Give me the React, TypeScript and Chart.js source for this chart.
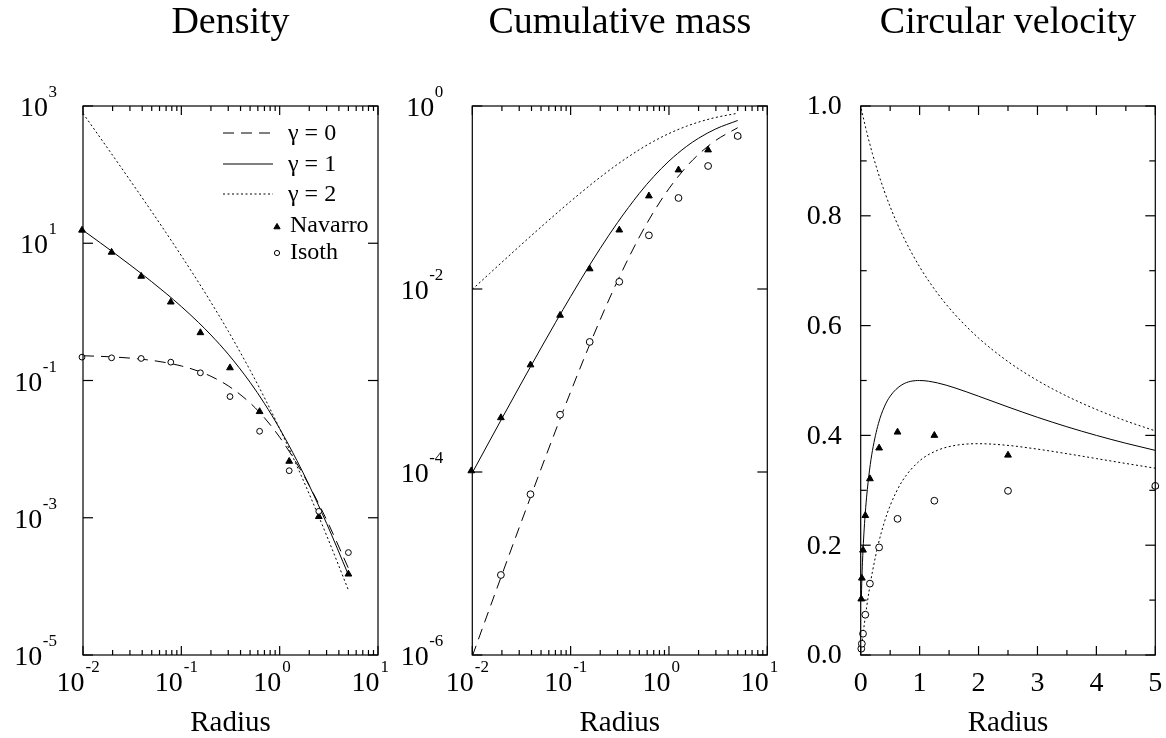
import React, { useEffect, useRef } from "react";
import { Chart, registerables } from "chart.js";

Chart.register(...registerables);

const FONT = '"Liberation Serif", "Times New Roman", Times, serif';

// ---------- data ----------
const pointRadii = [0.009765625, 0.01953125, 0.0390625, 0.078125, 0.15625, 0.3125, 0.625, 1.25, 2.5, 5];

const densityNavarro = [15.5, 7.39, 3.3, 1.39, 0.497, 0.153, 0.0352, 0.00664, 0.00104, 0.000151];
const densityIsoth = [0.219, 0.214, 0.2095, 0.185, 0.1295, 0.0583, 0.0182, 0.00485, 0.00124, 0.000311];
const massNavarro = [1.03e-4, 3.92e-4, 1.48e-3, 5.16e-3, 0.0166, 0.0441, 0.104, 0.2, 0.331, 0.47];
const massIsoth = [null, 7.49e-6, 5.71e-5, 4.23e-4, 2.64e-3, 0.012, 0.0386, 0.0988, 0.221, 0.47];
const velocityNavarro = [0.102, 0.14, 0.191, 0.254, 0.321, 0.377, 0.406, 0.4, 0.364, 0.308];
const velocityIsoth = [0.0115, 0.0206, 0.0388, 0.0734, 0.13, 0.196, 0.248, 0.281, 0.299, 0.308];

const curveRadiiLog = [0.01, 0.015, 0.02, 0.03, 0.05, 0.07, 0.1, 0.15, 0.2, 0.3, 0.5, 0.7, 1, 1.5, 2, 3, 5];
const densityGamma0 = [0.2294, 0.2249, 0.2205, 0.2121, 0.1964, 0.1821, 0.163, 0.1365, 0.1151, 0.0836, 0.04715, 0.02858, 0.01492, 0.006111, 0.002947, 0.0009325, 0.0001842];
const densityGamma1 = [15.45, 10.15, 7.499, 4.855, 2.75, 1.856, 1.196, 0.6976, 0.4605, 0.2415, 0.09431, 0.04628, 0.01989, 0.00679, 0.002947, 0.000829, 0.0001474];
const densityGamma2 = [780.1, 343.3, 191.2, 83.35, 28.87, 14.19, 6.577, 2.674, 1.382, 0.5232, 0.1415, 0.0562, 0.0199, 0.005659, 0.002211, 0.0005526, 0.0000884];
const massGamma0 = [9.706e-7, 3.228e-6, 7.539e-6, 2.471e-5, 1.08e-4, 2.8e-4, 7.513e-4, 2.219e-3, 4.63e-3, 0.01229, 0.03704, 0.06982, 0.125, 0.216, 0.2963, 0.4219, 0.5787];
const massGamma1 = [9.803e-5, 2.184e-4, 3.845e-4, 8.483e-4, 2.268e-3, 4.28e-3, 8.264e-3, 0.01701, 0.02778, 0.05325, 0.1111, 0.1696, 0.25, 0.36, 0.4444, 0.5625, 0.6944];
const massGamma2 = [0.009901, 0.01478, 0.01961, 0.02913, 0.04762, 0.06542, 0.09091, 0.1304, 0.1667, 0.2308, 0.3333, 0.4118, 0.5, 0.6, 0.6667, 0.75, 0.8333];

const curveRadiiLin = [0.01, 0.02, 0.03, 0.05, 0.07, 0.1, 0.15, 0.2, 0.3, 0.4, 0.5, 0.7, 1, 1.3, 1.6, 2, 2.5, 3, 3.5, 4, 4.5, 5];
const velocityGamma0 = [0.00985, 0.01942, 0.0287, 0.04647, 0.06324, 0.08668, 0.1216, 0.1522, 0.2024, 0.2415, 0.2722, 0.3158, 0.3536, 0.3727, 0.3817, 0.3849, 0.3818, 0.375, 0.3667, 0.3578, 0.3489, 0.3402];
const velocityGamma1 = [0.09901, 0.1387, 0.1682, 0.213, 0.2473, 0.2875, 0.3368, 0.3727, 0.4213, 0.4518, 0.4714, 0.4922, 0.5, 0.4957, 0.4865, 0.4714, 0.4518, 0.433, 0.4157, 0.4, 0.3857, 0.3727];
const velocityGamma2 = [0.995, 0.9901, 0.9853, 0.9759, 0.9667, 0.9535, 0.9325, 0.9129, 0.8771, 0.8452, 0.8165, 0.767, 0.7071, 0.6594, 0.6202, 0.5774, 0.5345, 0.5, 0.4714, 0.4472, 0.4264, 0.4082];

// ---------- ticks & labels ----------
const titles = ["Density", "Cumulative mass", "Circular velocity"];
const xAxisTitle = "Radius";
const legendLabels = ["\u03b3 = 0", "\u03b3 = 1", "\u03b3 = 2", "Navarro", "Isoth"];

const logXExponents = [-2, -1, 0, 1];
const logXMinor = [0.02, 0.03, 0.04, 0.05, 0.06, 0.07, 0.08, 0.09, 0.2, 0.3, 0.4, 0.5, 0.6, 0.7, 0.8, 0.9, 2, 3, 4, 5, 6, 7, 8, 9];
const densityYExponents = [-5, -3, -1, 1, 3];
const massYExponents = [-6, -4, -2, 0];
const velXTicks = [0, 1, 2, 3, 4, 5];
const velXLabels = ["0", "1", "2", "3", "4", "5"];
const velXMinor = [0.5, 1.5, 2.5, 3.5, 4.5];
const velYTicks = [0, 0.2, 0.4, 0.6, 0.8, 1.0];
const velYLabels = ["0.0", "0.2", "0.4", "0.6", "0.8", "1.0"];
const velYMinor = [0.1, 0.3, 0.5, 0.7, 0.9];

// ---------- styles ----------
const DASH_G0 = [11, 7];
const DASH_G1: number[] = [];
const DASH_G2 = [2, 2.5];

type Label = { value: number; base: string; exp?: string };

const powLabels = (exps: number[]): Label[] =>
  exps.map((e) => ({ value: Math.pow(10, e), base: "10", exp: String(e) }));
const textLabels = (vals: number[], texts: string[]): Label[] =>
  vals.map((v, i) => ({ value: v, base: texts[i] }));

const toXY = (xs: number[], ys: (number | null)[]) =>
  xs.map((x, i) => ({ x, y: ys[i] })).filter((p) => p.y !== null && p.y !== undefined);

function lineDs(label: string, xs: number[], ys: number[], dash: number[]) {
  return {
    label,
    data: toXY(xs, ys),
    showLine: true,
    borderColor: "#000",
    borderWidth: 1,
    borderDash: dash,
    pointRadius: 0,
    fill: false,
    cubicInterpolationMode: "monotone",
  };
}
function triDs(ys: (number | null)[]) {
  return {
    label: "Navarro",
    data: toXY(pointRadii, ys),
    showLine: false,
    pointStyle: "triangle",
    pointRadius: 3.9,
    pointBackgroundColor: "#000",
    pointBorderColor: "#000",
    pointBorderWidth: 1,
    clip: false,
  };
}
function circDs(ys: (number | null)[], r: number) {
  return {
    label: "Isoth",
    data: toXY(pointRadii, ys),
    showLine: false,
    pointStyle: "circle",
    pointRadius: r,
    pointBackgroundColor: "#fff",
    pointBorderColor: "#000",
    pointBorderWidth: 1,
    clip: false,
  };
}

interface DecorCfg {
  title: string;
  xMajor: number[];
  xMinor: number[];
  yMajor: number[];
  yMinor: number[];
  xLabels: Label[];
  yLabels: Label[];
  yGap: number;
  legend?: boolean;
}

function decorPlugin(cfg: DecorCfg) {
  return {
    id: "decor",
    afterDraw(chart: any) {
      const ctx: CanvasRenderingContext2D = chart.ctx;
      const a = chart.chartArea;
      const xs = chart.scales.x;
      const ys = chart.scales.y;
      ctx.save();
      ctx.setLineDash([]);
      ctx.strokeStyle = "#000";
      ctx.lineWidth = 1.2;
      ctx.strokeRect(a.left, a.top, a.right - a.left, a.bottom - a.top);
      const seg = (x1: number, y1: number, x2: number, y2: number) => {
        ctx.beginPath();
        ctx.moveTo(x1, y1);
        ctx.lineTo(x2, y2);
        ctx.stroke();
      };
      const xt = (vals: number[], len: number) =>
        vals.forEach((v) => {
          const p = xs.getPixelForValue(v);
          seg(p, a.bottom, p, a.bottom - len);
          seg(p, a.top, p, a.top + len);
        });
      const yt = (vals: number[], len: number) =>
        vals.forEach((v) => {
          const p = ys.getPixelForValue(v);
          seg(a.left, p, a.left + len, p);
          seg(a.right, p, a.right - len, p);
        });
      xt(cfg.xMajor, 9);
      xt(cfg.xMinor, 5);
      yt(cfg.yMajor, 10);
      yt(cfg.yMinor, 6);

      ctx.fillStyle = "#000";
      // x tick labels
      cfg.xLabels.forEach((l) => {
        const p = xs.getPixelForValue(l.value);
        ctx.textBaseline = "alphabetic";
        if (l.exp !== undefined) {
          ctx.font = `28px ${FONT}`;
          ctx.textAlign = "right";
          ctx.fillText(l.base, p + 1.5, 691);
          ctx.font = `17px ${FONT}`;
          ctx.textAlign = "left";
          ctx.fillText(l.exp, p + 2.5, 672);
        } else {
          ctx.font = `28px ${FONT}`;
          ctx.textAlign = "center";
          ctx.fillText(l.base, p, 691);
        }
      });
      // y tick labels
      cfg.yLabels.forEach((l) => {
        const p = ys.getPixelForValue(l.value);
        const xr = a.left - cfg.yGap;
        if (l.exp !== undefined) {
          ctx.textBaseline = "alphabetic";
          ctx.font = `17px ${FONT}`;
          const w = ctx.measureText(l.exp).width;
          ctx.textAlign = "right";
          ctx.fillText(l.exp, xr, p - 9);
          ctx.font = `28px ${FONT}`;
          ctx.fillText(l.base, xr - w - 0.5, p + 10);
        } else {
          ctx.font = `28px ${FONT}`;
          ctx.textAlign = "right";
          ctx.textBaseline = "middle";
          ctx.fillText(l.base, xr, p + 1);
        }
      });
      // title & axis title
      const cx = (a.left + a.right) / 2;
      ctx.textAlign = "center";
      ctx.textBaseline = "alphabetic";
      ctx.font = `38px ${FONT}`;
      ctx.fillText(cfg.title, cx, 33);
      ctx.font = `29px ${FONT}`;
      ctx.fillText(xAxisTitle, cx, 731);

      if (cfg.legend) {
        const dashes = [DASH_G0, DASH_G1, DASH_G2];
        const rowsY = [a.top + 27, a.top + 58, a.top + 88];
        ctx.lineWidth = 1;
        rowsY.forEach((y, i) => {
          ctx.setLineDash(dashes[i]);
          seg(a.right - 155, y, a.right - 105, y);
          ctx.setLineDash([]);
          ctx.font = `24px ${FONT}`;
          ctx.textAlign = "left";
          ctx.textBaseline = "middle";
          ctx.fillText(legendLabels[i], a.right - 90, y + 1);
        });
        // triangle
        const tx = a.right - 101;
        const ty = a.top + 121;
        const r = 3.6;
        ctx.beginPath();
        for (let k = 0; k < 3; k++) {
          const ang = (k * 2 * Math.PI) / 3;
          const px = tx + Math.sin(ang) * r;
          const py = ty - Math.cos(ang) * r;
          if (k === 0) ctx.moveTo(px, py);
          else ctx.lineTo(px, py);
        }
        ctx.closePath();
        ctx.fill();
        ctx.stroke();
        ctx.fillText(legendLabels[3], a.right - 88, a.top + 120);
        // circle
        ctx.beginPath();
        ctx.arc(tx, a.top + 147, 2.6, 0, Math.PI * 2);
        ctx.stroke();
        ctx.fillText(legendLabels[4], a.right - 88, a.top + 147);
      }
      ctx.restore();
    },
  };
}

function baseOptions(padL: number, padR: number, xScale: any, yScale: any) {
  return {
    animation: false,
    responsive: false,
    devicePixelRatio: 1,
    events: [],
    layout: { padding: { left: padL, right: padR, top: 106, bottom: 83 } },
    plugins: { legend: { display: false }, tooltip: { enabled: false }, title: { display: false } },
    scales: { x: { ...xScale, display: false }, y: { ...yScale, display: false } },
  };
}

function densityConfig(): any {
  return {
    type: "scatter",
    data: {
      datasets: [
        circDs(densityIsoth, 2.9),
        triDs(densityNavarro),
        lineDs("\u03b3 = 0", curveRadiiLog, densityGamma0, DASH_G0),
        lineDs("\u03b3 = 1", curveRadiiLog, densityGamma1, DASH_G1),
        lineDs("\u03b3 = 2", curveRadiiLog, densityGamma2, DASH_G2),
      ],
    },
    options: baseOptions(
      83,
      12,
      { type: "logarithmic", min: 0.01, max: 10 },
      { type: "logarithmic", min: 1e-5, max: 1e3 }
    ),
    plugins: [
      decorPlugin({
        title: titles[0],
        xMajor: logXExponents.map((e) => Math.pow(10, e)),
        xMinor: logXMinor,
        yMajor: densityYExponents.map((e) => Math.pow(10, e)),
        yMinor: [],
        xLabels: powLabels(logXExponents),
        yLabels: powLabels(densityYExponents),
        yGap: 26,
        legend: true,
      }),
    ],
  };
}

function massConfig(): any {
  return {
    type: "scatter",
    data: {
      datasets: [
        circDs(massIsoth, 3.4),
        triDs(massNavarro),
        lineDs("\u03b3 = 0", curveRadiiLog, massGamma0, DASH_G0),
        lineDs("\u03b3 = 1", curveRadiiLog, massGamma1, DASH_G1),
        lineDs("\u03b3 = 2", curveRadiiLog, massGamma2, DASH_G2),
      ],
    },
    options: baseOptions(
      82.3,
      12.7,
      { type: "logarithmic", min: 0.01, max: 10 },
      { type: "logarithmic", min: 1e-6, max: 1 }
    ),
    plugins: [
      decorPlugin({
        title: titles[1],
        xMajor: logXExponents.map((e) => Math.pow(10, e)),
        xMinor: logXMinor,
        yMajor: massYExponents.map((e) => Math.pow(10, e)),
        yMinor: [],
        xLabels: powLabels(logXExponents),
        yLabels: powLabels(massYExponents),
        yGap: 29,
      }),
    ],
  };
}

function velocityConfig(): any {
  return {
    type: "scatter",
    data: {
      datasets: [
        circDs(velocityIsoth, 3.4),
        triDs(velocityNavarro),
        lineDs("\u03b3 = 0", curveRadiiLin, velocityGamma0, DASH_G2),
        lineDs("\u03b3 = 1", curveRadiiLin, velocityGamma1, DASH_G1),
        lineDs("\u03b3 = 2", curveRadiiLin, velocityGamma2, DASH_G2),
      ],
    },
    options: baseOptions(
      80.7,
      10.7,
      { type: "linear", min: 0, max: 5 },
      { type: "linear", min: 0, max: 1 }
    ),
    plugins: [
      decorPlugin({
        title: titles[2],
        xMajor: velXTicks,
        xMinor: velXMinor,
        yMajor: velYTicks,
        yMinor: velYMinor,
        xLabels: textLabels(velXTicks, velXLabels),
        yLabels: textLabels(velYTicks, velYLabels),
        yGap: 19,
      }),
    ],
  };
}

function Panel({ left, width, build }: { left: number; width: number; build: () => any }) {
  const ref = useRef<HTMLCanvasElement>(null);
  useEffect(() => {
    const chart = new Chart(ref.current as HTMLCanvasElement, build());
    return () => chart.destroy();
  }, []);
  return (
    <canvas
      ref={ref}
      width={width}
      height={738}
      style={{ position: "absolute", left, top: 0, width, height: 738, display: "block" }}
    />
  );
}

export default function App() {
  return (
    <div
      style={{
        position: "fixed",
        left: 0,
        top: 0,
        width: 1166,
        height: 738,
        background: "#fff",
        overflow: "hidden",
      }}
    >
      <Panel left={0} width={390} build={densityConfig} />
      <Panel left={390} width={390} build={massConfig} />
      <Panel left={780} width={386} build={velocityConfig} />
    </div>
  );
}
